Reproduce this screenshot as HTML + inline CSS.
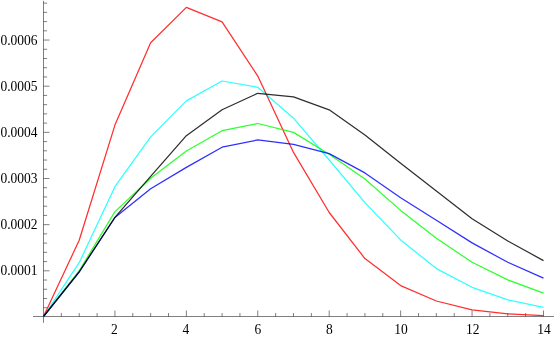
<!DOCTYPE html>
<html><head><meta charset="utf-8"><title>plot</title>
<style>
html,body{margin:0;padding:0;background:#fff;}
body{width:554px;height:337px;overflow:hidden;}
svg{display:block;will-change:transform;}
text{font-family:"Liberation Serif",serif;font-size:13.5px;fill:#000;}
</style></head><body>
<svg width="554" height="337" viewBox="0 0 554 337">
<rect width="554" height="337" fill="#fff"/>
<g stroke="#000" stroke-width="0.5" fill="none">
<line x1="33" y1="316.50" x2="554" y2="316.50"/>
<line x1="43.50" y1="0.8" x2="43.50" y2="322.8"/>
<line x1="61.36" y1="316.50" x2="61.36" y2="313.00"/>
<line x1="79.21" y1="316.50" x2="79.21" y2="313.00"/>
<line x1="97.07" y1="316.50" x2="97.07" y2="313.00"/>
<line x1="114.93" y1="316.50" x2="114.93" y2="310.50"/>
<line x1="132.78" y1="316.50" x2="132.78" y2="313.00"/>
<line x1="150.64" y1="316.50" x2="150.64" y2="313.00"/>
<line x1="168.50" y1="316.50" x2="168.50" y2="313.00"/>
<line x1="186.36" y1="316.50" x2="186.36" y2="310.50"/>
<line x1="204.21" y1="316.50" x2="204.21" y2="313.00"/>
<line x1="222.07" y1="316.50" x2="222.07" y2="313.00"/>
<line x1="239.93" y1="316.50" x2="239.93" y2="313.00"/>
<line x1="257.78" y1="316.50" x2="257.78" y2="310.50"/>
<line x1="275.64" y1="316.50" x2="275.64" y2="313.00"/>
<line x1="293.50" y1="316.50" x2="293.50" y2="313.00"/>
<line x1="311.36" y1="316.50" x2="311.36" y2="313.00"/>
<line x1="329.21" y1="316.50" x2="329.21" y2="310.50"/>
<line x1="347.07" y1="316.50" x2="347.07" y2="313.00"/>
<line x1="364.93" y1="316.50" x2="364.93" y2="313.00"/>
<line x1="382.78" y1="316.50" x2="382.78" y2="313.00"/>
<line x1="400.64" y1="316.50" x2="400.64" y2="310.50"/>
<line x1="418.50" y1="316.50" x2="418.50" y2="313.00"/>
<line x1="436.35" y1="316.50" x2="436.35" y2="313.00"/>
<line x1="454.21" y1="316.50" x2="454.21" y2="313.00"/>
<line x1="472.07" y1="316.50" x2="472.07" y2="310.50"/>
<line x1="489.92" y1="316.50" x2="489.92" y2="313.00"/>
<line x1="507.78" y1="316.50" x2="507.78" y2="313.00"/>
<line x1="525.64" y1="316.50" x2="525.64" y2="313.00"/>
<line x1="543.50" y1="316.50" x2="543.50" y2="310.50"/>
<line x1="43.50" y1="307.72" x2="47.10" y2="307.72"/>
<line x1="43.50" y1="298.49" x2="47.10" y2="298.49"/>
<line x1="43.50" y1="289.26" x2="47.10" y2="289.26"/>
<line x1="43.50" y1="280.03" x2="47.10" y2="280.03"/>
<line x1="43.50" y1="270.80" x2="49.50" y2="270.80"/>
<line x1="43.50" y1="261.57" x2="47.10" y2="261.57"/>
<line x1="43.50" y1="252.34" x2="47.10" y2="252.34"/>
<line x1="43.50" y1="243.11" x2="47.10" y2="243.11"/>
<line x1="43.50" y1="233.88" x2="47.10" y2="233.88"/>
<line x1="43.50" y1="224.65" x2="49.50" y2="224.65"/>
<line x1="43.50" y1="215.42" x2="47.10" y2="215.42"/>
<line x1="43.50" y1="206.19" x2="47.10" y2="206.19"/>
<line x1="43.50" y1="196.96" x2="47.10" y2="196.96"/>
<line x1="43.50" y1="187.73" x2="47.10" y2="187.73"/>
<line x1="43.50" y1="178.50" x2="49.50" y2="178.50"/>
<line x1="43.50" y1="169.27" x2="47.10" y2="169.27"/>
<line x1="43.50" y1="160.04" x2="47.10" y2="160.04"/>
<line x1="43.50" y1="150.81" x2="47.10" y2="150.81"/>
<line x1="43.50" y1="141.58" x2="47.10" y2="141.58"/>
<line x1="43.50" y1="132.35" x2="49.50" y2="132.35"/>
<line x1="43.50" y1="123.12" x2="47.10" y2="123.12"/>
<line x1="43.50" y1="113.89" x2="47.10" y2="113.89"/>
<line x1="43.50" y1="104.66" x2="47.10" y2="104.66"/>
<line x1="43.50" y1="95.43" x2="47.10" y2="95.43"/>
<line x1="43.50" y1="86.20" x2="49.50" y2="86.20"/>
<line x1="43.50" y1="76.97" x2="47.10" y2="76.97"/>
<line x1="43.50" y1="67.74" x2="47.10" y2="67.74"/>
<line x1="43.50" y1="58.51" x2="47.10" y2="58.51"/>
<line x1="43.50" y1="49.28" x2="47.10" y2="49.28"/>
<line x1="43.50" y1="40.05" x2="49.50" y2="40.05"/>
<line x1="43.50" y1="30.82" x2="47.10" y2="30.82"/>
<line x1="43.50" y1="21.59" x2="47.10" y2="21.59"/>
<line x1="43.50" y1="12.36" x2="47.10" y2="12.36"/>
<line x1="43.50" y1="3.13" x2="47.10" y2="3.13"/>
</g>
<text transform="translate(114.33,333.5) scale(1,1.04)" text-anchor="middle">2</text>
<text transform="translate(185.76,333.5) scale(1,1.04)" text-anchor="middle">4</text>
<text transform="translate(257.78,333.5) scale(1,1.04)" text-anchor="middle">6</text>
<text transform="translate(329.31,333.5) scale(1,1.04)" text-anchor="middle">8</text>
<text transform="translate(401.04,333.5) scale(1,1.04)" text-anchor="middle">10</text>
<text transform="translate(472.67,333.5) scale(1,1.04)" text-anchor="middle">12</text>
<text transform="translate(544.10,333.5) scale(1,1.04)" text-anchor="middle">14</text>
<text transform="translate(37.6,275.40) scale(1,1.04)" text-anchor="end">0.0001</text>
<text transform="translate(37.6,229.25) scale(1,1.04)" text-anchor="end">0.0002</text>
<text transform="translate(37.6,183.10) scale(1,1.04)" text-anchor="end">0.0003</text>
<text transform="translate(37.6,136.95) scale(1,1.04)" text-anchor="end">0.0004</text>
<text transform="translate(37.6,90.80) scale(1,1.04)" text-anchor="end">0.0005</text>
<text transform="translate(37.6,44.65) scale(1,1.04)" text-anchor="end">0.0006</text>
<g fill="none" stroke-width="1.25" stroke-opacity="0.82" stroke-linejoin="round" stroke-linecap="butt">
<polyline stroke="#00ffff" points="43.50,316.50 79.21,262.70 114.93,186.70 150.64,136.90 186.36,100.90 222.07,81.00 257.78,87.30 293.50,118.20 329.21,160.00 364.93,202.60 400.64,239.90 436.35,268.60 472.07,287.30 507.78,299.80 543.50,307.30"/>
<polyline stroke="#ff0000" points="43.50,316.50 79.21,240.20 114.93,125.10 150.64,42.70 186.36,7.35 222.07,21.80 257.78,76.10 293.50,152.40 329.21,212.50 364.93,258.60 400.64,285.60 436.35,301.00 472.07,309.90 507.78,313.80 543.50,315.60"/>
<polyline stroke="#00ff00" points="43.50,316.50 79.21,270.70 114.93,211.60 150.64,178.20 186.36,151.00 222.07,130.70 257.78,123.50 293.50,132.40 329.21,154.30 364.93,179.00 400.64,210.40 436.35,238.20 472.07,262.30 507.78,279.90 543.50,293.10"/>
<polyline stroke="#0000ff" points="43.50,316.50 79.21,272.00 114.93,217.50 150.64,188.80 186.36,167.40 222.07,147.20 257.78,139.90 293.50,144.40 329.21,153.60 364.93,172.90 400.64,197.80 436.35,220.20 472.07,242.90 507.78,262.30 543.50,278.10"/>
<polyline stroke="#000000" points="43.50,316.50 79.21,271.80 114.93,217.30 150.64,176.30 186.36,135.70 222.07,109.70 257.78,93.30 293.50,96.80 329.21,109.80 364.93,134.90 400.64,163.20 436.35,191.00 472.07,218.80 507.78,241.00 543.50,260.60"/>
</g>
</svg>
</body></html>
